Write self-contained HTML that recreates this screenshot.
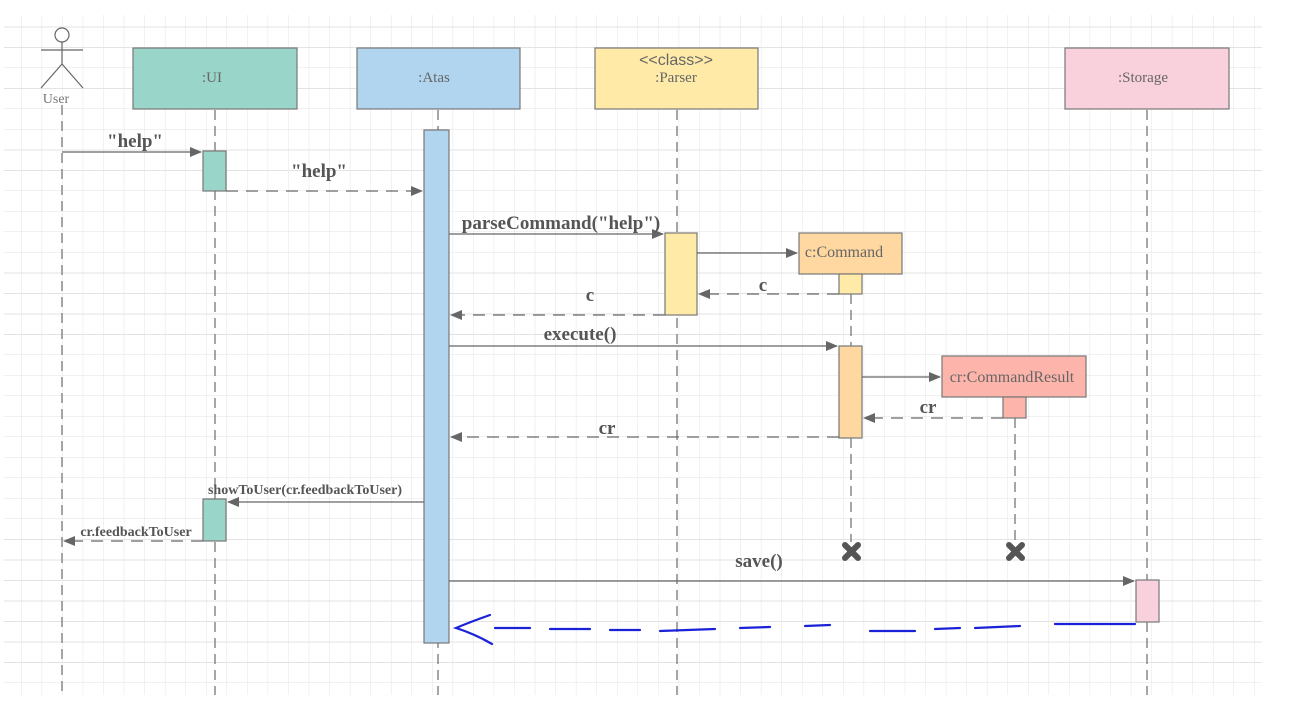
<!DOCTYPE html>
<html><head><meta charset="utf-8"><style>
html,body{margin:0;padding:0;background:#fff;}
svg{display:block;}
</style></head><body>
<svg width="1304" height="724" viewBox="0 0 1304 724" xmlns="http://www.w3.org/2000/svg" font-family="Liberation Serif, serif">
<defs>
<pattern id="g" x="1" y="6.5" width="20.55" height="20.5" patternUnits="userSpaceOnUse">
<path d="M20.55 0V20.5M0 20.5H20.55" stroke="#e3e3e3" stroke-width="1" fill="none"/>
</pattern>
<marker id="a" markerWidth="12" markerHeight="10" refX="11" refY="5" orient="auto" markerUnits="userSpaceOnUse">
<path d="M0,0 L12,5 L0,10 Z" fill="#666"/>
</marker>
</defs>
<rect x="4" y="15" width="1258" height="680" fill="url(#g)"/>
<g stroke="#777" stroke-width="1.3" stroke-dasharray="10,6" fill="none">
<line x1="62" y1="105" x2="62" y2="695"/>
<line x1="215" y1="110" x2="215" y2="695"/>
<line x1="438" y1="110" x2="438" y2="695"/>
<line x1="677" y1="110" x2="677" y2="695"/>
<line x1="1147" y1="110" x2="1147" y2="695"/>
<line x1="851" y1="294" x2="851" y2="542"/>
<line x1="1015" y1="418" x2="1015" y2="542"/>
</g>
<g stroke="#666" stroke-width="1.2" fill="none">
<circle cx="62" cy="35" r="7" fill="#fff"/>
<line x1="62" y1="42" x2="62" y2="64"/>
<line x1="41" y1="50" x2="83" y2="50"/>
<line x1="62" y1="64" x2="41" y2="88"/>
<line x1="62" y1="64" x2="83" y2="88"/>
</g>
<text x="56" y="103" font-size="14" fill="#777" text-anchor="middle">User</text>
<g stroke="#777" stroke-width="1.2">
<rect x="133" y="48" width="164" height="61" fill="#9ad5ca"/>
<rect x="357" y="48" width="163" height="61" fill="#b1d4ef"/>
<rect x="595" y="48" width="163" height="61" fill="#ffeaa7"/>
<rect x="1065" y="48" width="164" height="61" fill="#f9d1dc"/>
<rect x="424" y="130" width="25" height="513" fill="#b1d4ef"/>
<rect x="203" y="151" width="23" height="40" fill="#9ad5ca"/>
<rect x="203" y="499" width="23" height="42" fill="#9ad5ca"/>
<rect x="665" y="233" width="32" height="82" fill="#ffeaa7"/>
<rect x="799" y="233" width="103" height="41" fill="#fed8a0"/>
<rect x="839" y="274" width="23" height="20" fill="#ffeaa7"/>
<rect x="839" y="346" width="23" height="92" fill="#fed8a0"/>
<rect x="942" y="356" width="144" height="41" fill="#fdb4aa"/>
<rect x="1003" y="397" width="23" height="21" fill="#fdb4aa"/>
<rect x="1136" y="580" width="23" height="42" fill="#f9d1dc"/>
</g>
<g font-size="15" fill="#666" text-anchor="middle">
<text x="212" y="82">:UI</text>
<text x="434" y="82">:Atas</text>
<text x="676" y="65" font-family="Liberation Sans, sans-serif" font-size="16">&lt;&lt;class&gt;&gt;</text>
<text x="676" y="82">:Parser</text>
<text x="1143" y="82">:Storage</text>
<text x="844" y="257" font-size="16">c:Command</text>
<text x="1012" y="382" font-size="16">cr:CommandResult</text>
</g>
<g stroke="#666" stroke-width="1.3" fill="none">
<line x1="62" y1="152" x2="201" y2="152" marker-end="url(#a)"/>
<line x1="226" y1="191" x2="422" y2="191" stroke-dasharray="12,8" marker-end="url(#a)"/>
<line x1="449" y1="234" x2="663" y2="234" marker-end="url(#a)"/>
<line x1="697" y1="253" x2="797" y2="253" marker-end="url(#a)"/>
<line x1="839" y1="294" x2="699" y2="294" stroke-dasharray="12,8" marker-end="url(#a)"/>
<line x1="665" y1="315" x2="451" y2="315" stroke-dasharray="12,8" marker-end="url(#a)"/>
<line x1="449" y1="346" x2="837" y2="346" marker-end="url(#a)"/>
<line x1="862" y1="377" x2="940" y2="377" marker-end="url(#a)"/>
<line x1="1003" y1="418" x2="864" y2="418" stroke-dasharray="12,8" marker-end="url(#a)"/>
<line x1="839" y1="437" x2="451" y2="437" stroke-dasharray="12,8" marker-end="url(#a)"/>
<line x1="424" y1="502" x2="228" y2="502" marker-end="url(#a)"/>
<line x1="203" y1="541" x2="64" y2="541" stroke-dasharray="12,8" marker-end="url(#a)"/>
<line x1="449" y1="581" x2="1134" y2="581" marker-end="url(#a)"/>
</g>
<g font-weight="bold" fill="#555" text-anchor="middle">
<text x="135" y="147" font-size="19">"help"</text>
<text x="319" y="177" font-size="19">"help"</text>
<text x="561" y="229" font-size="19">parseCommand("help")</text>
<text x="763" y="291" font-size="19">c</text>
<text x="590" y="301" font-size="19">c</text>
<text x="580" y="340" font-size="19">execute()</text>
<text x="928" y="413" font-size="19">cr</text>
<text x="607" y="434" font-size="19">cr</text>
<text x="305" y="494" font-size="14">showToUser(cr.feedbackToUser)</text>
<text x="136" y="536" font-size="14">cr.feedbackToUser</text>
<text x="759" y="567" font-size="19">save()</text>
</g>
<g stroke="#555" stroke-width="6" stroke-linecap="round">
<line x1="845" y1="545" x2="858" y2="558"/><line x1="858" y1="545" x2="845" y2="558"/>
<line x1="1009" y1="545" x2="1022" y2="558"/><line x1="1022" y1="545" x2="1009" y2="558"/>
</g>
<g stroke="#1a22d8" stroke-width="2.2" fill="none" stroke-linecap="round">
<path d="M1135,624 L1055,624 M1020,626 L975,628 M960,628 L935,629 M915,631 L870,631 M830,625 L805,626 M770,627 L740,628 M715,629 L660,631 M640,630 L610,630 M590,629 L550,629 M530,628 L495,628"/>
<path d="M490,615 Q470,622 456,628 Q475,634 492,644"/>
</g>
</svg>
</body></html>
